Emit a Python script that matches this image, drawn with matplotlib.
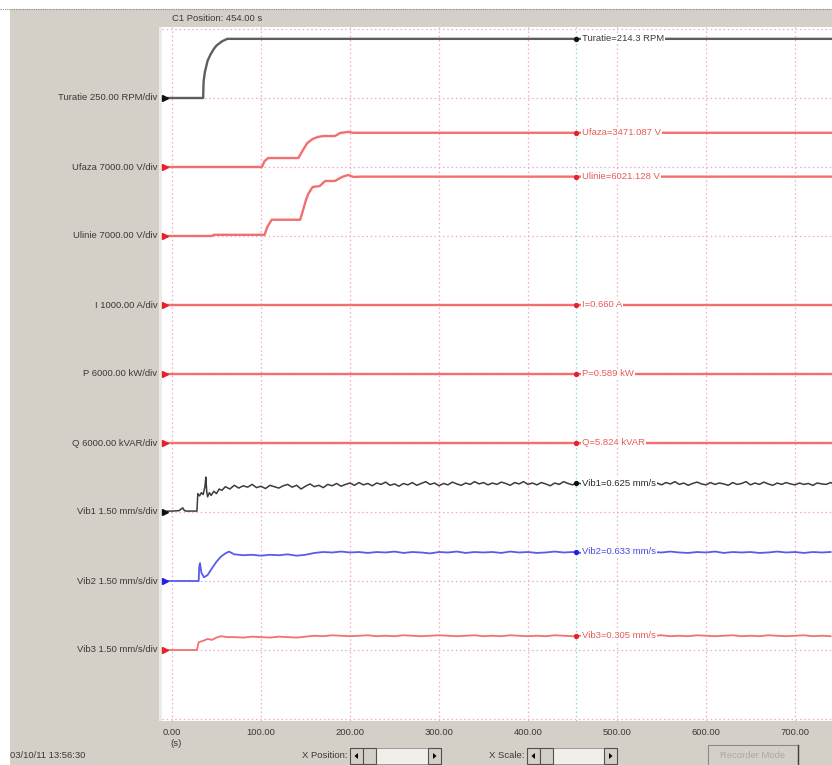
import numpy as np
import matplotlib
matplotlib.use('Agg')
import matplotlib.pyplot as plt
from matplotlib.transforms import blended_transform_factory
from matplotlib.patches import Rectangle, Polygon

# ------------------------------------------------------------------ data
channel_names = ['Turatie', 'Ufaza', 'Ulinie', 'I', 'P', 'Q', 'Vib1', 'Vib2', 'Vib3']
channel_scale = [250.0, 7000.0, 7000.0, 1000.0, 6000.0, 6000.0, 1.5, 1.5, 1.5]
channel_units = ['RPM/div', 'V/div', 'V/div', 'A/div', 'kW/div', 'kVAR/div',
                 'mm/s/div', 'mm/s/div', 'mm/s/div']
cursor_time = 454.0
cursor_values = [214.3, 3471.087, 6021.128, 0.660, 0.589, 5.824, 0.625, 0.633, 0.305]
cursor_units = ['RPM', 'V', 'V', 'A', 'kW', 'kVAR', 'mm/s', 'mm/s', 'mm/s']
x_ticks = [0, 100, 200, 300, 400, 500, 600, 700]
x_tick_labels = ['0.00', '100.00', '200.00', '300.00', '400.00', '500.00', '600.00', '700.00']

turatie_t = [-5, 35, 35.5, 37, 40, 43, 47, 50, 56, 62, 750]
turatie_v = [0, 0, 60, 95, 135, 156, 178, 190, 205, 214.3, 214.3]

ufaza_t = [-5, 101, 104, 108, 142, 147, 152, 158, 164, 170, 183, 189, 198, 204, 212, 750]
ufaza_v = [0, 0, 600, 910, 910, 1700, 2430, 2840, 3050, 3140, 3140, 3450, 3560, 3470, 3471, 3471]

ulinie_t = [-5, 45, 47, 104, 107, 112, 144, 147, 150, 153, 158, 166, 172, 183, 191, 198,
            204, 212, 750]
ulinie_v = [0, 0, 120, 120, 900, 1650, 1650, 2540, 3500, 4260, 4970, 5070, 5580, 5580,
            5990, 6190, 5990, 6021, 6021]

i_t = [-5, 750]
i_v = [0.660, 0.660]
p_t = [-5, 750]
p_v = [0.589, 0.589]
q_t = [-5, 750]
q_v = [5.824, 5.824]

vib1_t_start = [-5, 0, 8, 10, 12, 14, 16, 28, 29, 31, 33, 35, 37, 38, 39, 40, 42, 44,
                47, 50, 53, 56]
vib1_v_start = [0.02, 0.02, 0.03, 0.06, 0.09, 0.03, 0.02, 0.02, 0.40, 0.35, 0.42, 0.38,
                0.55, 0.76, 0.45, 0.33, 0.42, 0.36, 0.45, 0.40, 0.50, 0.47]
vib1_step = 5
vib1_v_run = [
    0.55, 0.50, 0.58, 0.52, 0.57, 0.54, 0.60, 0.53, 0.56, 0.51, 0.58, 0.55, 0.52, 0.57,
    0.60, 0.54, 0.58, 0.50, 0.56, 0.61, 0.55, 0.58, 0.53, 0.60, 0.57, 0.62, 0.56, 0.60,
    0.63, 0.58, 0.64, 0.59, 0.62, 0.57, 0.63, 0.60, 0.65, 0.58, 0.61, 0.56, 0.62, 0.59,
    0.64, 0.58, 0.62, 0.66, 0.60, 0.63, 0.57, 0.62, 0.59, 0.65, 0.61, 0.58, 0.63, 0.60,
    0.66, 0.61, 0.64, 0.59, 0.63, 0.60, 0.65, 0.62, 0.58, 0.64, 0.61, 0.66, 0.60, 0.63,
    0.59, 0.64, 0.61, 0.57, 0.63, 0.60, 0.66, 0.62, 0.59, 0.64, 0.61, 0.63, 0.60, 0.62,
    0.58, 0.63, 0.61, 0.56, 0.62, 0.59, 0.64, 0.60, 0.63, 0.58, 0.62, 0.65, 0.60, 0.63,
    0.59, 0.64, 0.61, 0.66, 0.60, 0.63, 0.58, 0.62, 0.65, 0.61, 0.59, 0.64, 0.60, 0.63,
    0.61, 0.58, 0.64, 0.60, 0.62, 0.66, 0.59, 0.63, 0.60, 0.65, 0.61, 0.58, 0.63, 0.60,
    0.64, 0.61, 0.59, 0.63, 0.60, 0.62, 0.58, 0.63, 0.61, 0.60, 0.64, 0.60]

vib2_t_start = [-5, 30, 30.5, 31.5, 33, 36, 40, 45, 50, 55, 60, 64]
vib2_v_start = [0.0, 0.0, 0.30, 0.39, 0.18, 0.08, 0.13, 0.28, 0.42, 0.53, 0.60, 0.64]
vib2_step = 10
vib2_v_run = [
    0.58, 0.56, 0.57, 0.55, 0.57, 0.56, 0.58, 0.55, 0.57,
    0.61, 0.63, 0.62, 0.64, 0.62, 0.63, 0.61, 0.63, 0.62, 0.64,
    0.61, 0.63, 0.62, 0.60, 0.63, 0.62, 0.64, 0.61, 0.63, 0.62,
    0.63, 0.61, 0.64, 0.62, 0.63, 0.61, 0.62, 0.64, 0.62, 0.63,
    0.61, 0.63, 0.62, 0.64, 0.61, 0.63, 0.62, 0.60, 0.63, 0.62,
    0.64, 0.62, 0.61, 0.63, 0.62, 0.64, 0.61, 0.63, 0.62, 0.63,
    0.61, 0.62, 0.64, 0.62, 0.63, 0.61, 0.63, 0.62, 0.63]

vib3_t_start = [-5, 28, 30, 35, 40, 45, 50, 55, 62]
vib3_v_start = [0.0, 0.0, 0.17, 0.20, 0.24, 0.22, 0.27, 0.30, 0.28]
vib3_step = 10
vib3_v_run = [
    0.28, 0.27, 0.29, 0.28, 0.27, 0.29, 0.28, 0.27, 0.29,
    0.31, 0.30, 0.32, 0.31, 0.30, 0.31, 0.32, 0.30, 0.31, 0.30,
    0.32, 0.31, 0.30, 0.31, 0.32, 0.31, 0.30, 0.31, 0.32, 0.30,
    0.31, 0.30, 0.32, 0.31, 0.30, 0.31, 0.30, 0.32, 0.31, 0.30,
    0.31, 0.32, 0.30, 0.31, 0.30, 0.32, 0.31, 0.30, 0.31, 0.32,
    0.30, 0.31, 0.30, 0.32, 0.31, 0.30, 0.31, 0.32, 0.30, 0.31,
    0.30, 0.32, 0.31, 0.30, 0.31, 0.32, 0.30, 0.31, 0.30]

vib1_t = vib1_t_start + [60 + vib1_step * k for k in range(len(vib1_v_run))]
vib1_v = vib1_v_start + vib1_v_run
vib2_t = vib2_t_start + [70 + vib2_step * k for k in range(len(vib2_v_run))]
vib2_v = vib2_v_start + vib2_v_run
vib3_t = vib3_t_start + [70 + vib3_step * k for k in range(len(vib3_v_run))]
vib3_v = vib3_v_start + vib3_v_run

series = [(turatie_t, turatie_v), (ufaza_t, ufaza_v), (ulinie_t, ulinie_v),
          (i_t, i_v), (p_t, p_v), (q_t, q_v),
          (vib1_t, vib1_v), (vib2_t, vib2_v), (vib3_t, vib3_v)]

# ------------------------------------------------------------------ styling / layout
W, H = 832, 765
GRAY = '#d4d0c8'
TXT = '#3a3a3a'
FONT = 'Liberation Sans'
FS = 6.8
baseline_div = [9, 8, 7, 6, 5, 4, 3, 2, 1]
line_colors = ['#5e5e5e', '#f36f6f', '#f36f6f', '#f36f6f', '#f36f6f', '#f36f6f',
               '#3c3c3c', '#5a5aec', '#f07272']
line_widths = [1.7, 1.7, 1.7, 1.7, 1.7, 1.7, 1.1, 1.3, 1.3]
mark_colors = ['#111111', '#e8202a', '#e8202a', '#e8202a', '#e8202a', '#e8202a',
               '#111111', '#2020e0', '#e8202a']
text_colors = ['#3a3a3a', '#e85a5a', '#e85a5a', '#e85a5a', '#e85a5a', '#e85a5a',
               '#2a2a2a', '#4848e0', '#e85a5a']

plt.rcParams['font.family'] = [FONT, 'DejaVu Sans']

fig = plt.figure(figsize=(W / 100, H / 100), dpi=100)
fig.patch.set_facecolor('white')

# background (pixel coordinates, y downward)
bg = fig.add_axes([0, 0, 1, 1], zorder=0)
bg.set_xlim(0, W)
bg.set_ylim(H, 0)
bg.axis('off')
bg.add_patch(Rectangle((10, 9), W - 10, H - 9, facecolor=GRAY, edgecolor='none'))
bg.plot([0, W], [8.5, 8.5], color='#8a8a8a', lw=0.8, linestyle=(0, (1, 1)))
bg.add_patch(Rectangle((159, 27), 3, 694, facecolor='#ecebe8', edgecolor='none'))

# main plot axes
px_left, px_right, px_top, px_bot = 162, W, 27, 721
ax = fig.add_axes([px_left / W, (H - px_bot) / H, (px_right - px_left) / W,
                   (px_bot - px_top) / H], zorder=2)
px_per_s = 0.89
ax.set_xlim((px_left - 172) / px_per_s, (px_right - 172) / px_per_s)
ax.set_ylim(-2 / 69, 10 + 2 / 69)
ax.set_facecolor('white')
for s in ax.spines.values():
    s.set_visible(False)
ax.set_xticks(x_ticks)
ax.set_xticklabels(x_tick_labels, fontsize=FS, color=TXT)
ax.set_yticks(range(11))
ax.set_yticklabels([])
ax.tick_params(length=0, pad=5)
ax.grid(True, color='#f3a7cb', linestyle=(0, (1.2, 2.2)), linewidth=0.9)
ax.set_axisbelow(True)

# traces
for k, (t, v) in enumerate(series):
    y = baseline_div[k] + np.asarray(v, dtype=float) / channel_scale[k]
    ax.plot(t, y, color=line_colors[k], lw=line_widths[k], zorder=3,
            solid_joinstyle='round')

# left channel labels + markers
tr = blended_transform_factory(ax.transAxes, ax.transData)
for k, name in enumerate(channel_names):
    lab = f'{name} {channel_scale[k]:.2f} {channel_units[k]}'
    ax.text(-0.007, baseline_div[k], lab, transform=tr, ha='right', va='center',
            fontsize=FS, color=TXT, clip_on=False)
    ax.plot([-8], [baseline_div[k]], marker='>', ms=4.2, color=mark_colors[k],
            zorder=5, clip_on=False, linestyle='none')

# cursor
ax.axvline(cursor_time, color='#8fd6d6', linestyle=(0, (1.2, 2.2)), lw=0.9, zorder=2)
for k, name in enumerate(channel_names):
    yv = baseline_div[k] + cursor_values[k] / channel_scale[k]
    val = f'{cursor_values[k]:.1f}' if k == 0 else f'{cursor_values[k]:.3f}'
    ax.plot([cursor_time], [yv], marker='o', ms=2.8, color=mark_colors[k], zorder=6,
            linestyle='none')
    ax.text(cursor_time + 6.5, yv, f'{name}={val} {cursor_units[k]}', ha='left',
            va='center', fontsize=FS, color=text_colors[k], zorder=7,
            bbox=dict(facecolor='white', edgecolor='none', pad=0.6))

# header / footer texts
bg.text(172, 18, f'C1 Position: {cursor_time:.2f} s', ha='left', va='center',
        fontsize=FS, color=TXT)
bg.text(176, 743, '(s)', ha='center', va='center', fontsize=FS, color=TXT)
bg.text(10, 756, '03/10/11 13:56:30', ha='left', va='center', fontsize=FS, color=TXT)
bg.text(347, 756, 'X Position:', ha='right', va='center', fontsize=FS, color=TXT)
bg.text(524, 756, 'X Scale:', ha='right', va='center', fontsize=FS, color=TXT)


def scrollbar(x0, x1, y0, y1, th0, th1):
    h = y1 - y0
    bg.add_patch(Rectangle((x0, y0), x1 - x0, h, facecolor='#f1efea',
                           edgecolor='#9a9a9a', lw=0.7))
    for bx in (x0, x1 - 13):
        bg.add_patch(Rectangle((bx, y0), 13, h, facecolor=GRAY, edgecolor='#505050',
                               lw=0.8))
    bg.add_patch(Rectangle((th0, y0), th1 - th0, h, facecolor=GRAY, edgecolor='#505050',
                           lw=0.8))
    cy = (y0 + y1) / 2
    bg.add_patch(Polygon([[x0 + 4.5, cy], [x0 + 8, cy - 3], [x0 + 8, cy + 3]],
                         closed=True, facecolor='black', edgecolor='none'))
    bg.add_patch(Polygon([[x1 - 4.5, cy], [x1 - 8, cy - 3], [x1 - 8, cy + 3]],
                         closed=True, facecolor='black', edgecolor='none'))


scrollbar(350, 441, 748, 764, 363, 376)
scrollbar(527, 617, 748, 764, 540, 553)

bg.add_patch(Rectangle((708, 745), 90, 22, facecolor=GRAY, edgecolor='#8a8a8a', lw=0.8))
bg.plot([798, 798], [745, 765], color='#404040', lw=1.0)
bg.text(753, 755, 'Recorder Mode', ha='center', va='center', fontsize=FS, color='#a8a8a8')

fig.savefig('out.png', dpi=100)
